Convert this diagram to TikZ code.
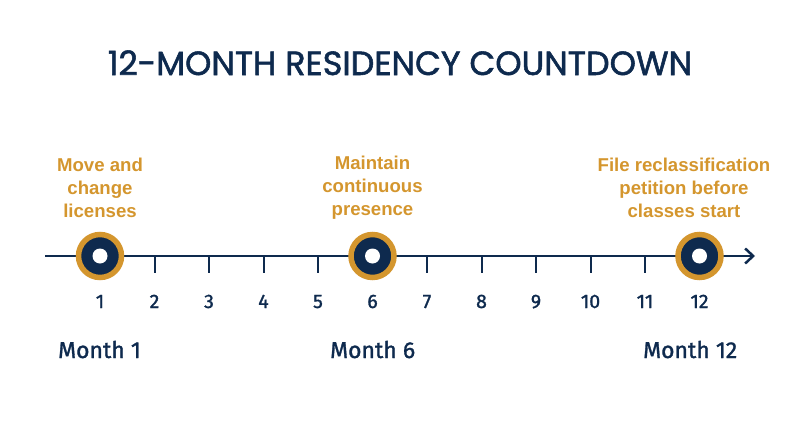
\documentclass[tikz,border=0pt]{standalone}
\usepackage{fontspec}
\setmainfont{Liberation Sans}
\newfontfamily\titlefont[FakeBold=1.6]{Poppins}
\newfontfamily\monthfont[FakeBold=1.3]{Fira Sans}
\usetikzlibrary{arrows.meta}
\definecolor{navy}{HTML}{0E2A4E}
\definecolor{gold}{HTML}{D4962E}
\begin{document}
\begin{tikzpicture}[x=1pt,y=-1pt,
  marker/.style={circle,fill=navy,draw=gold,line width=5.5pt,minimum size=43pt,inner sep=0pt},
  hole/.style={circle,fill=white,minimum size=15pt,inner sep=0pt},
  tasklabel/.style={align=center,text=gold,font=\fontsize{18.6}{23}\selectfont\bfseries},
  monthnum/.style={text=navy,font=\monthfont\fontsize{19.5}{22}\selectfont,anchor=base},
  monthlabel/.style={text=navy,font=\monthfont\fontsize{23}{26}\selectfont,anchor=base west,inner sep=0pt}]
  \useasboundingbox (0,0) rectangle (800,447);
  % title
  \node[text=navy,font=\titlefont\fontsize{33.5}{38}\selectfont,anchor=base] (title) at (400,75) {12-MONTH RESIDENCY COUNTDOWN};
  % axis
  \coordinate (axisL) at (45,256);
  \coordinate (axisR) at (755,256);
  \draw[navy,line width=2.5pt,-{Straight Barb[length=8pt,width=15pt]}] (axisL) -- (axisR);
  \foreach \m in {2,3,4,5,7,8,9,10,11}
    \draw[navy,line width=2pt] ({100+(\m-1)*54.5},256) coordinate (tick\m) -- ++(0,17);
  \foreach \m in {1,...,12}
    \node[monthnum] (num\m) at ({100+(\m-1)*54.5},308) {\m};
  % milestones
  \node[marker] (m1) at (100,256) {};
  \node[marker] (m6) at (372.5,256) {};
  \node[marker] (m12) at (699.5,256) {};
  \foreach \k in {1,6,12}
    \node[hole] at (m\k) {};
  \node[tasklabel] (lbl1) at (100,188) {Move and\\change\\licenses};
  \node[tasklabel] (lbl6) at (372.5,188) {Maintain\\continuous\\presence};
  \node[tasklabel] (lbl12) at (684,188) {File reclassification\\petition before\\classes start};
  \node[monthlabel] (mon1) at (58,358) {Month 1};
  \node[monthlabel] (mon6) at (330,358) {Month 6};
  \node[monthlabel] (mon12) at (643,358) {Month 12};
\end{tikzpicture}
\end{document}
